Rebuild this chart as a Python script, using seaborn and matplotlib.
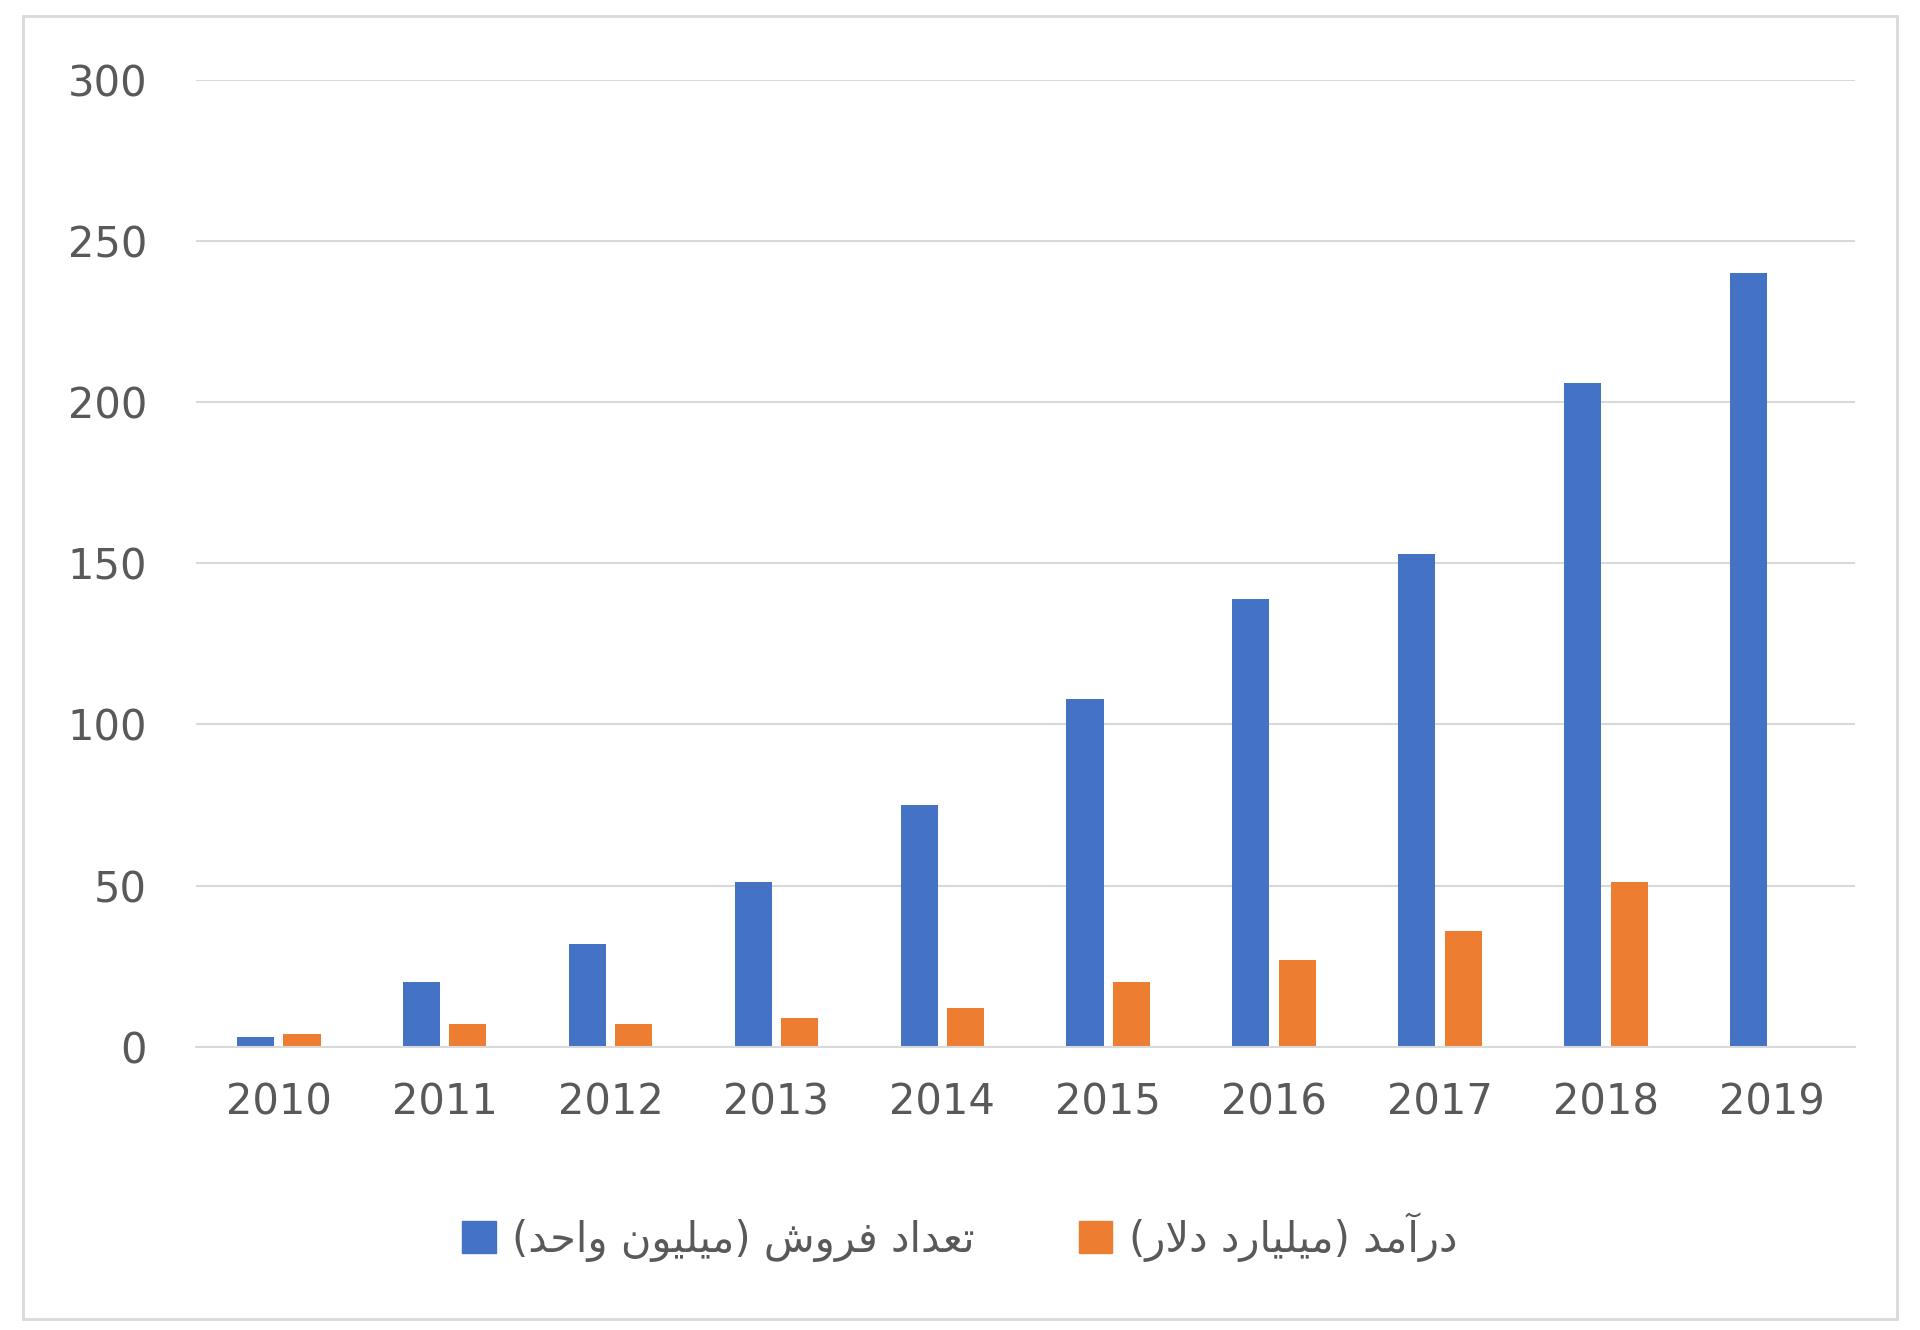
import matplotlib
matplotlib.use("Agg")
import matplotlib.pyplot as plt
import seaborn as sns
import pandas as pd
from matplotlib.patches import Rectangle

years = ["2010","2011","2012","2013","2014","2015","2016","2017","2018","2019"]
units = [3, 20, 32, 51, 75, 108, 139, 153, 206, 240]
revenue = [4, 7, 7, 9, 12, 20, 27, 36, 51, 0]
series_names = ["تعداد فروش (میلیون واحد)", "درآمد (میلیارد دلار)"]
colors = ["#4472C4", "#ED7D31"]

# minimal Arabic/Persian shaping (presentation forms) + RTL ordering
FORMS = {
    "ا": (0xFE8D, 0xFE8E, None, None), "آ": (0xFE81, 0xFE82, None, None),
    "د": (0xFEA9, 0xFEAA, None, None), "ر": (0xFEAD, 0xFEAE, None, None),
    "و": (0xFEED, 0xFEEE, None, None),
    "ت": (0xFE95, 0xFE96, 0xFE97, 0xFE98), "ع": (0xFEC9, 0xFECA, 0xFECB, 0xFECC),
    "ف": (0xFED1, 0xFED2, 0xFED3, 0xFED4), "ش": (0xFEB5, 0xFEB6, 0xFEB7, 0xFEB8),
    "م": (0xFEE1, 0xFEE2, 0xFEE3, 0xFEE4), "ل": (0xFEDD, 0xFEDE, 0xFEDF, 0xFEE0),
    "ن": (0xFEE5, 0xFEE6, 0xFEE7, 0xFEE8), "ح": (0xFEA1, 0xFEA2, 0xFEA3, 0xFEA4),
    "ی": (0xFBFC, 0xFBFD, 0xFBFE, 0xFBFF),
}
def dual(c):
    return c in FORMS and FORMS[c][2] is not None

def shape(s):
    out = []
    i = 0
    n = len(s)
    while i < n:
        c = s[i]
        if c not in FORMS:
            out.append(c); i += 1; continue
        prev_joins = i > 0 and dual(s[i-1])
        if c == "ل" and i + 1 < n and s[i+1] == "ا":
            out.append(chr(0xFEFC if prev_joins else 0xFEFB)); i += 2; continue
        nxt = s[i+1] if i + 1 < n else ""
        next_joins = dual(c) and nxt in FORMS
        f = FORMS[c]
        if prev_joins and next_joins: ch = f[3]
        elif prev_joins: ch = f[1]
        elif next_joins: ch = f[2]
        else: ch = f[0]
        out.append(chr(ch)); i += 1
    vis = "".join(reversed(out))
    return vis.translate(str.maketrans("()", ")("))

df = pd.DataFrame({
    "year": years * 2,
    "value": units + revenue,
    "series": [series_names[0]] * len(years) + [series_names[1]] * len(years),
})

fig = plt.figure(figsize=(19.2, 13.3), dpi=100)
ax = fig.add_axes([0.102, 0.213, 0.864, 0.727])
sns.barplot(data=df, x="year", y="value", hue="series", palette=colors,
            width=0.56, gap=0.2, ax=ax, legend=False, saturation=1)
ax.set_ylim(0, 300)
ax.set_yticks(range(0, 301, 50))
ax.yaxis.grid(True, color="#D9D9D9", linewidth=1.5)
ax.set_axisbelow(True)
for s in ["top", "right", "left"]:
    ax.spines[s].set_visible(False)
ax.spines["bottom"].set_color("#D9D9D9")
ax.spines["bottom"].set_linewidth(1.5)
ax.tick_params(axis="both", length=0, labelsize=30, labelcolor="#595959")
ax.tick_params(axis="y", pad=35)
ax.tick_params(axis="x", pad=25)
ax.set_xlabel(""); ax.set_ylabel("")
ax.set_xlim(-0.5, len(years) - 0.5)

handles = [Rectangle((0, 0), 1, 1, color=c) for c in colors]
fig.legend(handles, [shape(n) for n in series_names], loc="center",
           bbox_to_anchor=(0.5, 0.07), ncol=2, frameon=False,
           prop={"family": "DejaVu Sans", "size": 30}, labelcolor="#595959",
           handlelength=0.8, handleheight=0.8, columnspacing=2.5, handletextpad=0.4)

fig.patches.append(Rectangle((0.012, 0.008), 0.976, 0.98, transform=fig.transFigure,
                             fill=False, edgecolor="#D9D9D9", linewidth=2))
fig.savefig("out.png", dpi=100)
